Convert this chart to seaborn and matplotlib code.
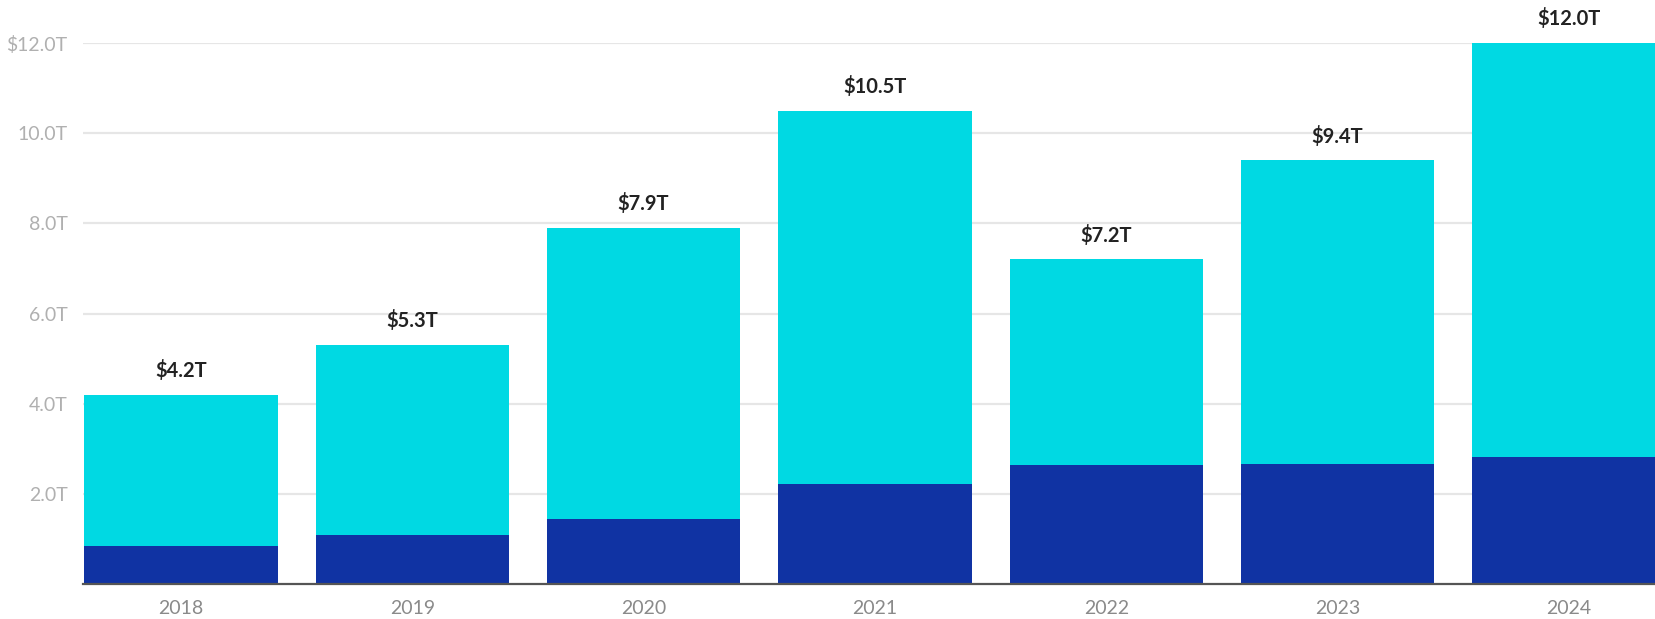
import matplotlib
matplotlib.use("Agg")
import matplotlib.pyplot as plt
import seaborn as sns

# values (trillions of $)
years = ["2018", "2019", "2020", "2021", "2022", "2023", "2024"]
totals = [4.2, 5.3, 7.9, 10.5, 7.2, 9.4, 12.0]
lower = [0.84, 1.09, 1.43, 2.22, 2.64, 2.66, 2.82]
total_labels = ["$4.2T", "$5.3T", "$7.9T", "$10.5T", "$7.2T", "$9.4T", "$12.0T"]
ytick_vals = [2, 4, 6, 8, 10, 12]
ytick_labels = ["2.0T", "4.0T", "6.0T", "8.0T", "10.0T", "$12.0T"]

cyan = "#00d9e3"
navy = "#1033a3"

sns.set_style("white")
plt.rcParams["font.family"] = ["Lato", "DejaVu Sans"]

fig = plt.figure(figsize=(16.56, 6.19), dpi=100)
ax = fig.add_axes([0.050, 0.057, 0.950, 0.873])

# grid behind bars
ax.set_axisbelow(True)
ax.yaxis.grid(True, color="#e6e6e6", linewidth=1.6)

# full bar in cyan, lower part drawn over it in navy
sns.barplot(x=years, y=totals, color=cyan, width=0.836, errorbar=None,
            saturation=1, linewidth=0, ax=ax, zorder=2)
sns.barplot(x=years, y=lower, color=navy, width=0.836, errorbar=None,
            saturation=1, linewidth=0, ax=ax, zorder=3)

for i, (t, lab) in enumerate(zip(totals, total_labels)):
    ax.annotate(lab, (i, t), xytext=(0, 10), textcoords="offset points",
                ha="center", va="bottom", fontsize=14.5, fontweight="bold",
                color="#222222", clip_on=False, annotation_clip=False)

ax.set_xlim(-0.424, 6.376)
ax.set_ylim(0, 12)
ax.set_yticks(ytick_vals)
ax.set_yticklabels(ytick_labels)
ax.tick_params(axis="y", length=0, pad=11, labelsize=14, labelcolor="#b0b0b0")
ax.tick_params(axis="x", length=0, pad=12, labelsize=14, labelcolor="#8a8a8a")
ax.set_xlabel("")
ax.set_ylabel("")

for side in ["top", "right", "left"]:
    ax.spines[side].set_visible(False)
ax.spines["bottom"].set_color("#555555")
ax.spines["bottom"].set_linewidth(1.6)
ax.spines["bottom"].set_zorder(5)

fig.savefig("out.png", dpi=100)
